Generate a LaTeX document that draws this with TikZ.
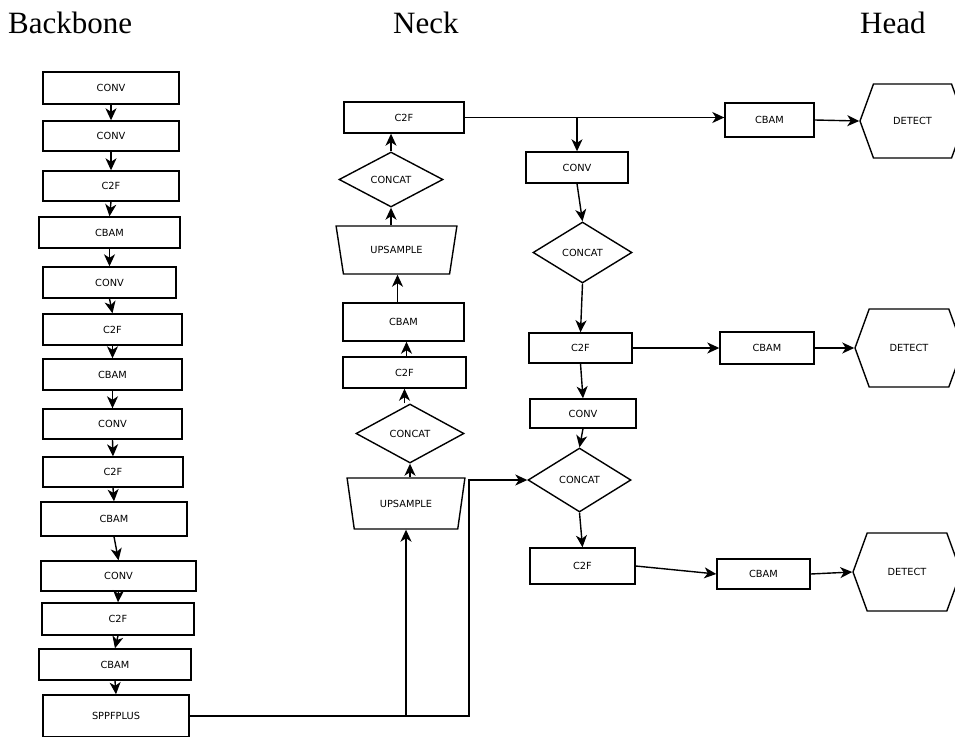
\documentclass[tikz,border=0pt]{standalone}
\usepackage{fontspec}
\setmainfont{DejaVu Sans}
\newfontfamily\titlefont{Liberation Serif}
\usetikzlibrary{shapes.geometric,shapes.symbols,arrows.meta}
\begin{document}
\begin{tikzpicture}[x=1pt,y=-1pt,
  lw/.style={line width=1.4pt},
  lbl/.style={font=\fontsize{9.8}{11}\selectfont},
  box/.style={lw,lbl,draw,rectangle,inner sep=0pt},
  dia/.style={lw,lbl,draw,diamond,inner sep=0pt},
  trap/.style={lw,lbl,draw,trapezium,trapezium left angle=64,trapezium right angle=64,trapezium stretches=true,shape border rotate=180,inner sep=0pt},
  det/.style={lw,lbl,draw,signal,signal to=west and east,signal pointer angle=140,inner sep=0pt},
  arr/.style={lw,-{Stealth[length=12pt,width=11pt,inset=3.5pt]}},
  ttl/.style={font=\titlefont\fontsize{31}{36}\selectfont,inner sep=0pt,anchor=base west}
]
\useasboundingbox (0,0) rectangle (955,736);

% titles
\node[ttl] (tb) at (8,33) {Backbone};
\node[ttl] (tn) at (393,33) {Neck};
\node[ttl] (th) at (860,33) {Head};

% backbone
\node[box,minimum width=136pt,minimum height=32pt] (b1) at (111,88) {CONV};
\node[box,minimum width=136pt,minimum height=30pt] (b2) at (111,136) {CONV};
\node[box,minimum width=136pt,minimum height=30pt] (b3) at (111,186) {C2F};
\node[box,minimum width=141pt,minimum height=31pt] (b4) at (109.5,232.5) {CBAM};
\node[box,minimum width=133pt,minimum height=31pt] (b5) at (109.5,282.5) {CONV};
\node[box,minimum width=139pt,minimum height=31pt] (b6) at (112.5,329.5) {C2F};
\node[box,minimum width=139pt,minimum height=31pt] (b7) at (112.5,374.5) {CBAM};
\node[box,minimum width=139pt,minimum height=30pt] (b8) at (112.5,424) {CONV};
\node[box,minimum width=140pt,minimum height=30pt] (b9) at (113,472) {C2F};
\node[box,minimum width=146pt,minimum height=34pt] (b10) at (114,519) {CBAM};
\node[box,minimum width=155pt,minimum height=30pt] (b11) at (118.5,576) {CONV};
\node[box,minimum width=152pt,minimum height=32pt] (b12) at (118,619) {C2F};
\node[box,minimum width=152pt,minimum height=31pt] (b13) at (115,664.5) {CBAM};
\node[box,minimum width=146pt,minimum height=42pt] (b14) at (116,716) {SPPFPLUS};

\foreach \a/\b in {b1/b2,b2/b3,b3/b4,b4/b5,b5/b6,b6/b7,b7/b8,b8/b9,b9/b10,b10/b11,b11/b12,b12/b13,b13/b14}
  \draw[arr] (\a.south) -- (\b.north);

% neck
\node[box,minimum width=120pt,minimum height=31pt] (n1) at (404,117.5) {C2F};
\node[dia,minimum width=104pt,minimum height=55pt] (n2) at (391,179.5) {CONCAT};
\node[trap,minimum width=121pt,minimum height=48pt] (n3) at (396.5,250) {UPSAMPLE};
\node[box,minimum width=121pt,minimum height=38pt] (n4) at (403.5,322) {CBAM};
\node[box,minimum width=123pt,minimum height=31pt] (n5) at (404.5,372.5) {C2F};
\node[dia,minimum width=108pt,minimum height=59pt] (n6) at (410,433.5) {CONCAT};
\node[trap,minimum width=118pt,minimum height=51pt] (n7) at (406,503.5) {UPSAMPLE};

\draw[arr] (n2.north) -- (n2.north |- n1.south);
\draw[arr] (n2.south |- n3.north) -- (n2.south);
\draw[arr] ([xshift=-6pt]n4.north) -- ([xshift=-6pt]n4.north |- n3.south);
\draw[arr] ([xshift=2pt]n5.north) -- ([xshift=2pt]n5.north |- n4.south);
\draw[arr] (n5.south |- n6.north) -- (n5.south);
\draw[arr] (n6.south |- n7.north) -- (n6.south);

% right column
\node[box,minimum width=102pt,minimum height=31pt] (r1) at (577,167.5) {CONV};
\node[dia,minimum width=99pt,minimum height=61pt] (r2) at (582.5,252.5) {CONCAT};
\node[box,minimum width=103pt,minimum height=30pt] (r3) at (580.5,348) {C2F};
\node[box,minimum width=106pt,minimum height=29pt] (r4) at (583,413.5) {CONV};
\node[dia,minimum width=103pt,minimum height=64pt] (r5) at (579.5,480) {CONCAT};
\node[box,minimum width=105pt,minimum height=36pt] (r6) at (582.5,566) {C2F};

% head
\node[box,minimum width=89pt,minimum height=34pt] (h1) at (769.5,120) {CBAM};
\node[box,minimum width=94pt,minimum height=32pt] (h2) at (767,348) {CBAM};
\node[box,minimum width=93pt,minimum height=30pt] (h3) at (763.5,574) {CBAM};
\node[det,minimum width=105pt,minimum height=74pt] (d1) at (912.5,121) {DETECT};
\node[det,minimum width=108pt,minimum height=78pt] (d2) at (909,348) {DETECT};
\node[det,minimum width=108pt,minimum height=78pt] (d3) at (907,572) {DETECT};

% connectors
\coordinate (j) at (469,716);
\draw[arr] (b14.east) -| (n7.south);
\draw[arr] (n7.south |- b14.east) -- (j) |- (r5.west);

\draw[arr] (n1.east) -- (n1.east -| h1.west);
\draw[arr] (n1.east -| r1.north) -- (r1.north);
\draw[arr] (r1.south) -- (r2.north);
\draw[arr] (r2.south) -- (r3.north);
\draw[arr] (r3.east) -- (h2.west);
\draw[arr] (r3.south) -- (r4.north);
\draw[arr] (r4.south) -- (r5.north);
\draw[arr] (r5.south) -- (r6.north);
\draw[arr] (r6.east) -- (h3.west);

\draw[arr] (h1.east) -- (d1.west);
\draw[arr] (h2.east) -- (d2.west);
\draw[arr] (h3.east) -- (d3.west);
\end{tikzpicture}
\end{document}
